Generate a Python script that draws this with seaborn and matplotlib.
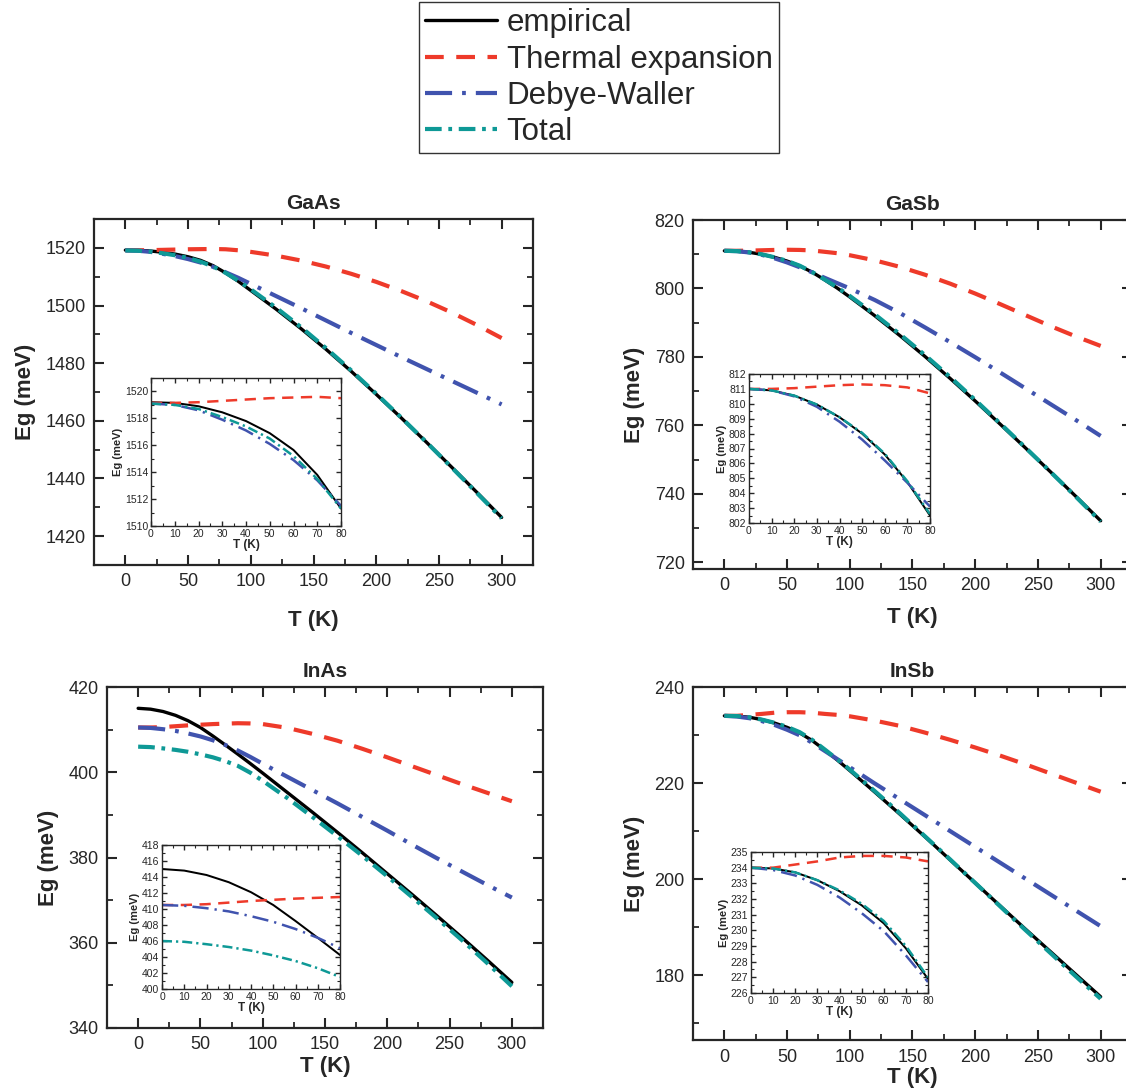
import seaborn as sns
import matplotlib.pyplot as plt
from matplotlib.lines import Line2D
from matplotlib.ticker import MultipleLocator

sns.set_style("ticks")
plt.rcParams["font.family"] = ["Liberation Sans", "DejaVu Sans"]

# temperatures (K); the insets use the first 9 points (0-80 K)
T_MAIN = [0, 10, 20, 30, 40, 50, 60, 70, 80, 90, 100,
          120, 140, 160, 180, 200, 220, 240, 260, 280, 300]
N_IN = 9

MODELS = ["empirical", "Thermal expansion", "Debye-Waller", "Total"]

# ---- GaAs ----
gaas_emp = [1519.2, 1519.15, 1518.9, 1518.45, 1517.8, 1516.9, 1515.65, 1513.8, 1511.3, 1508.4, 1505.2,
            1498.8, 1492.0, 1484.8, 1477.2, 1469.2, 1461.0, 1452.6, 1444.0, 1435.3, 1426.5]
gaas_thermal = [1519.15, 1519.15, 1519.2, 1519.3, 1519.4, 1519.5, 1519.55, 1519.6, 1519.5, 1519.15, 1518.6,
                1517.3, 1515.6, 1513.5, 1511.0, 1508.2, 1505.0, 1501.5, 1497.6, 1493.3, 1488.7]
gaas_dw = [1519.1, 1519.0, 1518.6, 1517.9, 1517.1, 1516.1, 1514.9, 1513.4, 1511.5, 1509.6, 1507.5,
           1503.3, 1499.1, 1494.8, 1490.5, 1486.3, 1482.1, 1478.0, 1473.9, 1469.8, 1465.7]
gaas_total = [1519.1, 1519.0, 1518.7, 1518.1, 1517.4, 1516.5, 1515.2, 1513.5, 1511.3, 1508.6, 1505.6,
              1499.3, 1492.5, 1485.2, 1477.5, 1469.4, 1461.1, 1452.6, 1443.9, 1435.1, 1426.2]

# ---- GaSb ----
gasb_emp = [811.0, 810.9, 810.55, 809.95, 809.1, 808.0, 806.6, 804.75, 802.5, 800.1, 797.5,
            792.0, 786.2, 780.1, 773.7, 767.1, 760.3, 753.4, 746.4, 739.3, 732.1]
gasb_thermal = [811.0, 811.0, 811.05, 811.15, 811.25, 811.3, 811.25, 811.1, 810.7, 810.3, 809.7,
                808.2, 806.3, 804.0, 801.4, 798.5, 795.4, 792.2, 789.0, 786.0, 783.2]
gasb_dw = [811.0, 810.9, 810.5, 809.8, 808.8, 807.6, 806.2, 804.7, 803.1, 801.55, 800.0,
           796.6, 792.8, 788.6, 784.3, 779.9, 775.4, 770.8, 766.2, 761.6, 756.9]
gasb_total = [811.0, 810.9, 810.55, 809.95, 809.1, 808.05, 806.65, 804.8, 802.6, 800.3, 797.8,
              792.4, 786.6, 780.5, 774.1, 767.4, 760.5, 753.5, 746.4, 739.2, 731.9]

# ---- InAs ----
inas_emp = [415.0, 414.8, 414.25, 413.35, 412.1, 410.5, 408.5, 406.4, 404.25, 402.05, 399.8,
            395.2, 390.6, 385.9, 381.1, 376.2, 371.3, 366.3, 361.2, 356.0, 350.7]
inas_thermal = [410.5, 410.5, 410.6, 410.8, 411.0, 411.15, 411.3, 411.4, 411.5, 411.45, 411.3,
                410.4, 409.0, 407.4, 405.5, 403.5, 401.4, 399.3, 397.2, 395.2, 393.2]
inas_dw = [410.5, 410.4, 410.1, 409.7, 409.1, 408.4, 407.5, 406.4, 405.1, 403.6, 402.0,
           398.9, 395.8, 392.7, 389.5, 386.3, 383.0, 379.8, 376.7, 373.6, 370.6]
inas_total = [406.0, 405.9, 405.6, 405.25, 404.8, 404.2, 403.5, 402.6, 401.5, 399.9, 398.0,
              393.9, 389.5, 385.0, 380.4, 375.6, 370.7, 365.7, 360.6, 355.3, 349.8]

# ---- InSb ----
insb_emp = [234.0, 233.95, 233.7, 233.2, 232.5, 231.6, 230.45, 228.85, 226.9, 224.8, 222.6,
            218.1, 213.5, 208.8, 204.0, 199.2, 194.4, 189.6, 184.9, 180.2, 175.5]
insb_thermal = [234.0, 234.0, 234.2, 234.4, 234.65, 234.75, 234.75, 234.65, 234.4, 234.2, 233.9,
                233.0, 231.9, 230.5, 229.0, 227.4, 225.7, 223.9, 222.0, 220.1, 218.2]
insb_dw = [234.0, 233.85, 233.5, 232.9, 232.1, 231.1, 229.95, 228.4, 226.7, 225.0, 223.3,
           219.9, 216.6, 213.3, 210.0, 206.7, 203.4, 200.1, 196.8, 193.5, 190.2]
insb_total = [234.0, 233.95, 233.7, 233.2, 232.55, 231.7, 230.6, 229.0, 227.0, 224.95, 222.8,
              218.3, 213.7, 208.9, 204.1, 199.2, 194.3, 189.4, 184.6, 179.8, 175.1]

COLORS = {"empirical": "black", "Thermal expansion": "#EE3A2A",
          "Debye-Waller": "#4053AE", "Total": "#0E9996"}
LW = {"empirical": 2.4, "Thermal expansion": 3.0, "Debye-Waller": 3.0, "Total": 3.0}
DASHES = {"empirical": None, "Thermal expansion": (4.5, 3.0),
          "Debye-Waller": (6.5, 2.4, 0.9, 2.4), "Total": (4.0, 1.6, 0.9, 1.6)}

W, H = 1126, 1092


def box(l, t, r, b):
    return [l / W, 1 - b / H, (r - l) / W, (b - t) / H]


def draw_curves(ax, T, curves, scale):
    for name, vals in zip(MODELS, curves):
        sns.lineplot(x=T, y=vals, ax=ax, color=COLORS[name],
                     lw=LW[name] * scale, legend=False)
        if DASHES[name]:
            ax.lines[-1].set_dashes(DASHES[name])


panels = [
    # title, main box, ylim, inset box, inset ylim, inset y step,
    # (xlabel pad, x tick pad), curves
    ("GaAs", box(94, 219, 533, 565), (1410, 1530), box(151, 378, 341, 526), (1510, 1521), 2,
     (14, 6), [gaas_emp, gaas_thermal, gaas_dw, gaas_total]),
    ("GaSb", box(693, 220, 1132, 569), (718, 820), box(749, 374, 930, 523), (802, 812), 1,
     (9, 6), [gasb_emp, gasb_thermal, gasb_dw, gasb_total]),
    ("InAs", box(107, 687, 543, 1028), (340, 420), box(162, 845, 340, 989), (400, 418), 2,
     (2, 6), [inas_emp, inas_thermal, inas_dw, inas_total]),
    ("InSb", box(693, 687, 1132, 1040), (166.5, 240), box(751, 852, 928, 993), (226, 235), 1,
     (1, 6.5), [insb_emp, insb_thermal, insb_dw, insb_total]),
]

fig = plt.figure(figsize=(11.26, 10.92), dpi=100)

for title, mbox, ylim, ibox, iylim, istep, pads, curves in panels:
    ax = fig.add_axes(mbox)
    draw_curves(ax, T_MAIN, curves, 1.0)
    ax.set_xlim(-25, 325)
    ax.set_ylim(*ylim)
    ax.xaxis.set_major_locator(MultipleLocator(50))
    ax.xaxis.set_minor_locator(MultipleLocator(25))
    ax.yaxis.set_major_locator(MultipleLocator(20))
    ax.yaxis.set_minor_locator(MultipleLocator(10))
    ax.tick_params(which="both", direction="in", top=True, right=True,
                   labelsize=13, pad=6)
    ax.tick_params(axis="x", pad=pads[1])
    ax.tick_params(which="major", length=7, width=1.5)
    ax.tick_params(which="minor", length=4, width=1.3)
    for sp in ax.spines.values():
        sp.set_linewidth(1.6)
    ax.set_title(title, fontsize=15, fontweight="bold", pad=7)
    ax.set_xlabel("T (K)", fontsize=16, fontweight="bold", labelpad=pads[0])
    ax.set_ylabel("Eg (meV)", fontsize=16, fontweight="bold", labelpad=7)

    # low temperature inset
    ins = fig.add_axes(ibox, facecolor="white")
    draw_curves(ins, T_MAIN[:N_IN], [c[:N_IN] for c in curves], 0.6)
    ins.set_xlim(0, 80)
    ins.set_ylim(*iylim)
    ins.xaxis.set_major_locator(MultipleLocator(10))
    ins.xaxis.set_minor_locator(MultipleLocator(5))
    ins.yaxis.set_major_locator(MultipleLocator(istep))
    ins.yaxis.set_minor_locator(MultipleLocator(istep / 2))
    ins.tick_params(which="both", direction="in", top=True, right=True,
                    labelsize=7.5, pad=2)
    ins.tick_params(which="major", length=3.5, width=1.0)
    ins.tick_params(which="minor", length=2, width=0.8)
    for sp in ins.spines.values():
        sp.set_linewidth(1.0)
    ins.set_xlabel("T (K)", fontsize=8.5, fontweight="bold", labelpad=0)
    ins.set_ylabel("Eg (meV)", fontsize=8, fontweight="bold", labelpad=1)

handles = [Line2D([], [], color=COLORS[m], lw=LW[m]) for m in MODELS]
for h, m in zip(handles, MODELS):
    if DASHES[m]:
        h.set_dashes(DASHES[m])
leg = fig.legend(handles, MODELS, loc="upper center", bbox_to_anchor=(0.532, 0.998),
                 fontsize=22.5, frameon=True, fancybox=False, edgecolor="black",
                 handlelength=2.3, handletextpad=0.3, labelspacing=0.2,
                 borderpad=0.2, borderaxespad=0.0)
leg.get_frame().set_linewidth(1.0)

fig.savefig("out.png", dpi=100)
